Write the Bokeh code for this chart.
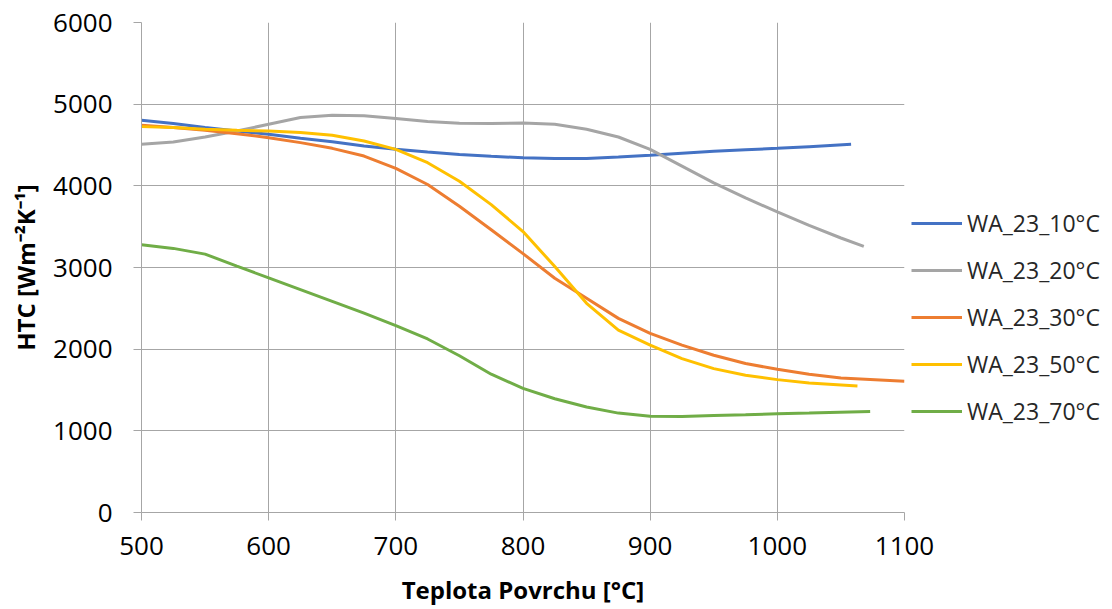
from bokeh.plotting import figure
from bokeh.models import Legend, LegendItem, Range1d, FixedTicker
from bokeh.embed import file_html
from bokeh.resources import INLINE

x_ticks = [500, 600, 700, 800, 900, 1000, 1100]
y_ticks = [0, 1000, 2000, 3000, 4000, 5000, 6000]

series_names = ["WA_23_10°C", "WA_23_20°C", "WA_23_30°C", "WA_23_50°C", "WA_23_70°C"]
colors = ["#4472C4", "#A5A5A5", "#ED7D31", "#FFC000", "#70AD47"]

x_10 = [500, 525, 550, 575, 600, 625, 650, 675, 700, 725, 750, 775, 800, 825, 850,
        875, 900, 925, 950, 975, 1000, 1025, 1058]
y_10 = [4803, 4762, 4713, 4672, 4631, 4582, 4541, 4488, 4447, 4414, 4385, 4361, 4344,
        4336, 4336, 4352, 4373, 4398, 4422, 4443, 4459, 4480, 4508]

x_20 = [500, 525, 550, 575, 600, 625, 650, 675, 700, 725, 750, 775, 800, 825, 850,
        875, 900, 925, 950, 975, 1000, 1025, 1050, 1068]
y_20 = [4508, 4537, 4598, 4672, 4754, 4836, 4865, 4857, 4824, 4787, 4766, 4762, 4770,
        4754, 4693, 4598, 4447, 4242, 4037, 3852, 3680, 3516, 3361, 3258]

x_30 = [500, 525, 550, 575, 600, 625, 650, 675, 700, 725, 750, 775, 800, 825, 850,
        875, 900, 925, 950, 975, 1000, 1025, 1050, 1100]
y_30 = [4742, 4713, 4680, 4639, 4590, 4529, 4459, 4365, 4213, 4016, 3750, 3463, 3170,
        2869, 2623, 2377, 2193, 2049, 1926, 1824, 1754, 1693, 1648, 1607]

x_50 = [500, 525, 550, 575, 600, 625, 650, 675, 700, 725, 750, 775, 800, 825, 850,
        875, 900, 925, 950, 975, 1000, 1025, 1063]
y_50 = [4725, 4713, 4693, 4680, 4672, 4652, 4619, 4549, 4447, 4283, 4057, 3770, 3440,
        3012, 2561, 2234, 2049, 1885, 1762, 1680, 1627, 1586, 1549]

x_70 = [500, 525, 550, 575, 600, 625, 650, 675, 700, 725, 750, 775, 800, 825, 850,
        875, 900, 925, 950, 975, 1000, 1025, 1073]
y_70 = [3279, 3234, 3164, 3016, 2873, 2729, 2585, 2441, 2289, 2125, 1919, 1693, 1520,
        1393, 1291, 1217, 1180, 1176, 1189, 1197, 1209, 1217, 1238]

xs = [x_10, x_20, x_30, x_50, x_70]
ys = [y_10, y_20, y_30, y_50, y_70]

p = figure(frame_width=763, frame_height=490, output_backend="svg", toolbar_location=None,
           x_range=Range1d(500, 1100), y_range=Range1d(0, 6000),
           min_border_left=141, min_border_right=0, min_border_top=22,
           min_border_bottom=96)
p.outline_line_color = None
p.background_fill_color = "white"

grid_color = "#A6A6A6"
for ax in (p.xaxis[0], p.yaxis[0]):
    ax.axis_line_color = grid_color
    ax.major_tick_line_color = grid_color
    ax.minor_tick_line_color = None
    ax.major_tick_out = 8
    ax.major_tick_in = 0
    ax.major_label_text_color = "#000000"
    ax.major_label_text_font = "Open Sans"
    ax.major_label_text_font_size = "26px"
    ax.axis_label_text_color = "#000000"
    ax.axis_label_text_font = "Open Sans"
    ax.axis_label_text_font_style = "bold"
    ax.axis_label_text_font_size = "24px"

p.xaxis.ticker = FixedTicker(ticks=x_ticks)
p.yaxis.ticker = FixedTicker(ticks=y_ticks)
p.xaxis.axis_label = "Teplota Povrchu [°C]"
p.yaxis.axis_label = "HTC [Wm⁻²K⁻¹]"
p.xaxis.major_label_standoff = 16
p.yaxis.major_label_standoff = 21
p.xaxis.axis_label_standoff = 15
p.yaxis.axis_label_standoff = 8

p.xgrid.grid_line_color = grid_color
p.ygrid.grid_line_color = grid_color
p.xgrid.ticker = FixedTicker(ticks=x_ticks)
p.ygrid.ticker = FixedTicker(ticks=y_ticks)

items = []
for name, c, xx, yy in zip(series_names, colors, xs, ys):
    r = p.line(xx, yy, line_color=c, line_width=3)
    items.append(LegendItem(label=name, renderers=[r]))

legend = Legend(items=items, location=(7, 85), padding=0, margin=0,
                spacing=15, glyph_width=51, glyph_height=20, label_height=20,
                label_standoff=5, label_text_font="Open Sans",
                label_text_font_size="23px", label_text_color="#262626",
                border_line_color=None, background_fill_alpha=0)
p.add_layout(legend, "right")

open("out.html", "w").write(file_html(p, INLINE))
